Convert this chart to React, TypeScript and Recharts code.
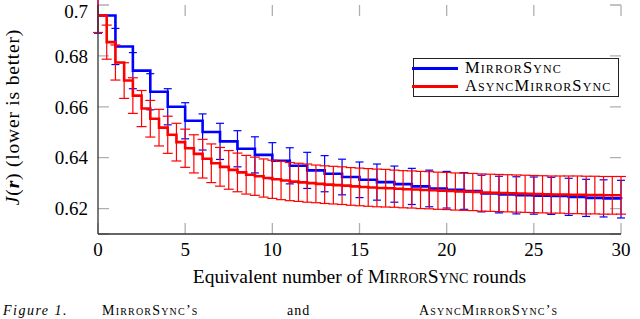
import { LineChart, Line, XAxis, YAxis, CartesianGrid, ErrorBar, Legend } from 'recharts';

const FONT = '"Liberation Serif", "Times New Roman", serif';

// MirrorSync: one point per round
const roundsMirror = [0, 1, 2, 3, 4, 5, 6, 7, 8, 9, 10, 11, 12, 13, 14, 15, 16, 17, 18, 19, 20, 21, 22, 23, 24, 25, 26, 27, 28, 29, 30];
const mirrorMean = [
  0.6959, 0.6837, 0.6742, 0.6659, 0.66, 0.6545, 0.6501, 0.6464, 0.6435, 0.6411, 0.6388,
  0.6368, 0.635, 0.6337, 0.6324, 0.6313, 0.6304, 0.6296, 0.6287, 0.6279, 0.6274,
  0.6269, 0.6259, 0.6255, 0.6252, 0.6251, 0.625, 0.6246, 0.6242, 0.624, 0.6237,
];
const mirrorStd = [
  0.007, 0.0071, 0.0071, 0.0071, 0.0071, 0.0071, 0.0071, 0.0071, 0.0071, 0.0071, 0.0071,
  0.0071, 0.0071, 0.0071, 0.007, 0.007, 0.0071, 0.0071, 0.0071, 0.0072, 0.0072,
  0.0072, 0.0072, 0.0072, 0.0073, 0.0073, 0.0073, 0.0073, 0.0073, 0.0073, 0.0074,
];

// AsyncMirrorSync: two points per equivalent round
const roundsAsync = [
  0, 0.5, 1, 1.5, 2, 2.5, 3, 3.5, 4, 4.5, 5, 5.5, 6, 6.5, 7, 7.5, 8, 8.5, 9, 9.5, 10,
  10.5, 11, 11.5, 12, 12.5, 13, 13.5, 14, 14.5, 15, 15.5, 16, 16.5, 17, 17.5, 18, 18.5, 19, 19.5, 20,
  20.5, 21, 21.5, 22, 22.5, 23, 23.5, 24, 24.5, 25, 25.5, 26, 26.5, 27, 27.5, 28, 28.5, 29, 29.5, 30,
];
const asyncMean = [
  0.6959, 0.6854, 0.6774, 0.6703, 0.6644, 0.6593, 0.6553, 0.6518, 0.649, 0.6461, 0.6437,
  0.6415, 0.6396, 0.6378, 0.6364, 0.6352, 0.6342, 0.6333, 0.6327, 0.632, 0.6315,
  0.631, 0.6306, 0.6303, 0.63, 0.6297, 0.6294, 0.6292, 0.629, 0.6287, 0.6285,
  0.6283, 0.6281, 0.628, 0.6278, 0.6276, 0.6275, 0.6273, 0.6272, 0.627, 0.6269,
  0.6267, 0.6266, 0.6265, 0.6263, 0.6262, 0.6261, 0.626, 0.6259, 0.6258, 0.6257,
  0.6256, 0.6255, 0.6255, 0.6254, 0.6254, 0.6253, 0.6253, 0.6252, 0.6252, 0.6252,
];
const asyncStd = [
  0.0067, 0.0067, 0.0069, 0.007, 0.007, 0.0071, 0.0072, 0.0072, 0.0073, 0.0074, 0.0075,
  0.0075, 0.0076, 0.0076, 0.0076, 0.0076, 0.0076, 0.0076, 0.0075, 0.0075, 0.0075,
  0.0075, 0.0075, 0.0075, 0.0075, 0.0074, 0.0074, 0.0074, 0.0074, 0.0074, 0.0074,
  0.0074, 0.0074, 0.0074, 0.0073, 0.0073, 0.0073, 0.0073, 0.0073, 0.0073, 0.0073,
  0.0073, 0.0073, 0.0073, 0.0073, 0.0073, 0.0073, 0.0073, 0.0073, 0.0073, 0.0073,
  0.0073, 0.0073, 0.0073, 0.0074, 0.0074, 0.0074, 0.0074, 0.0074, 0.0074, 0.0074,
];

const xTicks = [0, 5, 10, 15, 20, 25, 30];
const yTicks = [0.62, 0.64, 0.66, 0.68, 0.7];

const mirrorData = roundsMirror.map((x, i) => ({ x, y: mirrorMean[i], err: mirrorStd[i] }));
const asyncData = roundsAsync.map((x, i) => ({ x, y: asyncMean[i], err: asyncStd[i] }));

const BLUE = '#0000ff';
const RED = '#ff0000';

const legendItems = [
  { name: 'MirrorSync', color: BLUE },
  { name: 'AsyncMirrorSync', color: RED },
];

const renderLegend = () => (
  <div
    style={{
      width: 206,
      height: 39,
      boxSizing: 'border-box',
      border: '1.3px solid #222',
      background: '#fff',
      fontFamily: FONT,
      fontSize: 16.5,
      letterSpacing: 1.1,
      fontVariant: 'small-caps',
      color: '#000',
    }}
  >
    {legendItems.map((s) => (
      <div key={s.name} style={{ display: 'flex', alignItems: 'center', height: 18 }}>
        <span style={{ display: 'inline-block', width: 46, height: 3, background: s.color, marginLeft: -2 }} />
        <span style={{ marginLeft: 7, lineHeight: '18px' }}>{s.name}</span>
      </div>
    ))}
  </div>
);

const tickFmt = (v: number) => String(Number(v.toFixed(2)));

export default function App() {
  return (
    <div style={{ position: 'absolute', left: 0, top: 0, width: 640, height: 319, background: '#fff', overflow: 'hidden' }}>
      <LineChart width={640} height={295} margin={{ top: 5, right: 19, left: 0, bottom: 0 }}>
        <CartesianGrid horizontal={false} stroke="#b0b0b0" strokeWidth={1.3} strokeDasharray="11 207 11" />
        <CartesianGrid vertical={false} stroke="#b0b0b0" strokeWidth={1.3} strokeDasharray="11 501 11" />
        <XAxis
          dataKey="x"
          type="number"
          domain={[0, 30]}
          ticks={xTicks}
          height={61}
          tickSize={0}
          tickMargin={9}
          tickLine={false}
          axisLine={{ stroke: '#333', strokeWidth: 1.3 }}
          tick={{ fill: '#000', fontSize: 19, fontFamily: FONT }}
        />
        <XAxis xAxisId="top" orientation="top" type="number" domain={[0, 30]} height={0} tick={false} tickLine={false} axisLine={{ stroke: '#333', strokeWidth: 1.3 }} />
        <YAxis
          type="number"
          domain={[0.61, 0.7]}
          allowDataOverflow
          ticks={yTicks}
          width={98}
          tickSize={0}
          tickMargin={10}
          tickLine={false}
          tickFormatter={tickFmt}
          axisLine={{ stroke: '#333', strokeWidth: 1.3 }}
          tick={{ fill: '#000', fontSize: 19, fontFamily: FONT }}
        />
        <YAxis yAxisId="right" orientation="right" type="number" domain={[0.61, 0.7]} width={0} tick={false} tickLine={false} axisLine={{ stroke: '#333', strokeWidth: 1.3 }} />
        <Line
          data={mirrorData}
          dataKey="y"
          name="MirrorSync"
          type="stepAfter"
          stroke={BLUE}
          strokeWidth={2.6}
          dot={false}
          activeDot={false}
          isAnimationActive={false}
        >
          <ErrorBar dataKey="err" direction="y" width={4} stroke={BLUE} strokeWidth={1.2} />
        </Line>
        <Line
          data={asyncData}
          dataKey="y"
          name="AsyncMirrorSync"
          type="stepAfter"
          stroke={RED}
          strokeWidth={2.6}
          dot={false}
          activeDot={false}
          isAnimationActive={false}
        >
          <ErrorBar dataKey="err" direction="y" width={5} stroke={RED} strokeWidth={1.2} />
        </Line>
        <Legend
          layout="vertical"
          align="center"
          verticalAlign="middle"
          content={renderLegend}
          wrapperStyle={{ left: 413, top: 58, width: 206, height: 39 }}
        />
      </LineChart>

      {/* y axis title */}
      <div
        style={{
          position: 'absolute',
          left: 12.5,
          top: 117,
          transform: 'translate(-50%, -50%) rotate(-90deg)',
          whiteSpace: 'nowrap',
          fontFamily: FONT,
          fontSize: 19.5,
          letterSpacing: 0.8,
          lineHeight: '20px',
          color: '#000',
        }}
      >
        <i>J</i>(<b><i>r</i></b>) (lower is better)
      </div>

      {/* x axis title */}
      <div
        style={{
          position: 'absolute',
          left: 359.5,
          top: 277,
          transform: 'translate(-50%, -50%)',
          whiteSpace: 'nowrap',
          fontFamily: FONT,
          fontSize: 19.5,
          color: '#000',
        }}
      >
        Equivalent number of <span style={{ fontVariant: 'small-caps' }}>MirrorSync</span> rounds
      </div>

      {/* caption line at the bottom edge */}
      <div style={{ position: 'absolute', left: 0, top: 304, width: 640, height: 15, fontFamily: FONT, fontSize: 14, lineHeight: '14px', color: '#000' }}>
        <span style={{ position: 'absolute', left: 3, fontStyle: 'italic', letterSpacing: 1.5 }}>Figure 1.</span>
        <span style={{ position: 'absolute', left: 102, fontVariant: 'small-caps', letterSpacing: 1.2 }}>MirrorSync’s</span>
        <span style={{ position: 'absolute', left: 287, letterSpacing: 1 }}>and</span>
        <span style={{ position: 'absolute', left: 419, fontVariant: 'small-caps', letterSpacing: 1.2 }}>AsyncMirrorSync’s</span>
      </div>
    </div>
  );
}
